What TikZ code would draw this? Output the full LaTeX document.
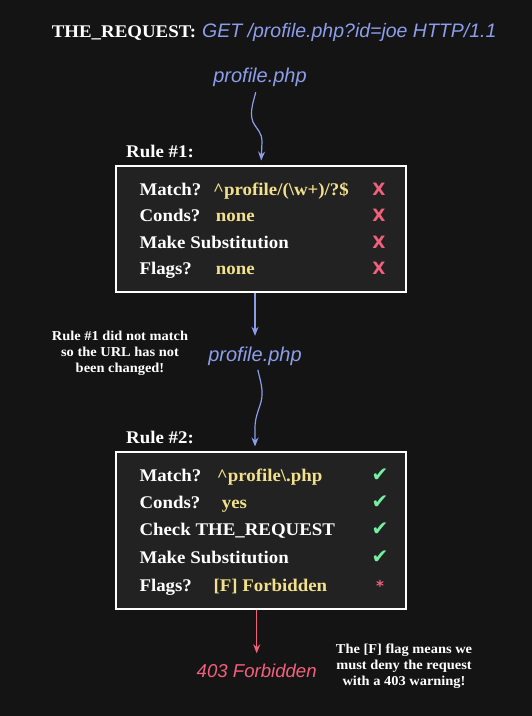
\documentclass[tikz,border=0pt]{standalone}
\usepackage{fontspec}
\setmainfont{Liberation Serif}[FakeStretch=1.06]
\newfontfamily\handfont{Liberation Sans}
\newfontfamily\markfont{DejaVu Sans}
\usepackage{tikz}
\usetikzlibrary{arrows,arrows.meta}
\usepackage{xcolor}
\definecolor{bgdark}{HTML}{141414}
\definecolor{boxdark}{HTML}{222222}
\definecolor{urlblue}{HTML}{8C9EEA}
\definecolor{valyellow}{HTML}{F2E08C}
\definecolor{nopink}{HTML}{F2607C}
\definecolor{okgreen}{HTML}{74F0A2}

\begin{document}
\begin{tikzpicture}[x=1pt,y=-1pt,>={Stealth[length=9pt,width=7pt]}]
\tikzset{
    rulebox/.style={%
        draw=white, line width=2pt,
        fill=boxdark,
        rectangle,
        minimum width=290pt,
        inner sep=0pt
        },
    lbl/.style={%
        text=white, anchor=base west, inner sep=0pt,
        font=\bfseries\fontsize{17.8}{20}\selectfont
        },
    val/.style={%
        text=valyellow, anchor=base west, inner sep=0pt,
        font=\bfseries\fontsize{17.8}{20}\selectfont
        },
    hand/.style={%
        anchor=base, inner sep=0pt,
        font=\handfont\itshape\fontsize{20}{22}\selectfont
        },
    note/.style={%
        text=white, align=center, inner sep=0pt,
        font=\bfseries\fontsize{13.6}{16}\selectfont
        },
    markx/.style={%
        text=nopink, anchor=base, inner sep=0pt,
        font=\markfont\bfseries\fontsize{17}{20}\selectfont
        },
    markok/.style={%
        text=okgreen, anchor=base, inner sep=0pt,
        font=\markfont\fontsize{20}{20}\selectfont
        },
    flow/.style={->, urlblue, line width=1.2pt}
}
%%%BACKGROUND
\fill[bgdark] (0,0) rectangle (532,716);
\useasboundingbox (0,0) rectangle (532,716);
%%%REQUEST
\node[lbl] (head) at (51.7,37.7) {THE\_REQUEST:};
\node[hand, text=urlblue, anchor=base west, font=\handfont\itshape\fontsize{19.5}{22}\selectfont] (req) at (202,37.7) {GET /profile.php?id=joe HTTP/1.1};
\node[hand, text=urlblue] (url1) at (260,82) {profile.php};
%%%RULE 1
\node[lbl] (rule1) at (126,157) {Rule \#1:};
\node[rulebox, minimum height=126pt] (box1) at (261,229) {};
\node[lbl] (m1) at (139.3,195) {Match?};
\node[val] (m1v) at (213,195) {\^{}profile/(\textbackslash w+)/?\$};
\node[markx] (m1x) at (379,195) {X};
\node[lbl] (c1) at (139.3,221) {Conds?};
\node[val] (c1v) at (215.7,221) {none};
\node[markx] (c1x) at (379,221) {X};
\node[lbl] (s1) at (139.3,248) {Make Substitution};
\node[markx] (s1x) at (379,248) {X};
\node[lbl] (f1) at (139.3,274) {Flags?};
\node[val] (f1v) at (215.7,274) {none};
\node[markx] (f1x) at (379,274) {X};
%%%BETWEEN
\node[note] (note1) at (120,353) {Rule \#1 did not match\\so the URL has not\\been changed!};
\node[hand, text=urlblue] (url2) at (255,361.5) {profile.php};
%%%RULE 2
\node[lbl] (rule2) at (126,443.3) {Rule \#2:};
\node[rulebox, minimum height=157pt] (box2) at (261,530.5) {};
\node[lbl] (m2) at (139.3,481) {Match?};
\node[val] (m2v) at (216.7,481) {\^{}profile\textbackslash.php};
\node[markok] (m2x) at (380,481) {✔};
\node[lbl] (c2) at (139.3,508) {Conds?};
\node[val] (c2v) at (221.7,508) {yes};
\node[markok] (c2x) at (380,508) {✔};
\node[lbl] (t2) at (139.3,535.5) {Check THE\_REQUEST};
\node[markok] (t2x) at (380,535.5) {✔};
\node[lbl] (s2) at (139.3,563) {Make Substitution};
\node[markok] (s2x) at (380,563) {✔};
\node[lbl] (f2) at (139.3,591.5) {Flags?};
\node[val] (f2v) at (213.3,591.5) {[F] Forbidden};
\node[markx, font=\markfont\bfseries\fontsize{15}{20}\selectfont] (f2x) at (380,591.5) {*};
%%%RESULT
\node[hand, text=nopink, font=\handfont\itshape\fontsize{18.6}{22}\selectfont] (res) at (256.7,677) {403 Forbidden};
\node[note] (note2) at (404,666.5) {The [F] flag means we\\must deny the request\\with a 403 warning!};
%%%ARROWS
\draw[flow, shorten <=6pt, shorten >=4.5pt] ([xshift=-3pt]url1.south) .. controls (254,100) and (249,112) .. (253,122) .. controls (257,130) and (262,132) .. (262,142) -- (box1.north);
\draw[flow, shorten >=11pt] (url2.north |- box1.south) -- (url2.north);
\draw[flow, shorten <=4pt, shorten >=4.5pt] ([xshift=2pt]url2.south) .. controls (260,380) and (264,390) .. (261,402) .. controls (258,412) and (255,418) .. (255,428) -- ([xshift=-6pt]box2.north);
\draw[->, nopink, line width=1.2pt, shorten >=10pt] (res.north |- box2.south) -- (res.north);
\end{tikzpicture}
\end{document}
